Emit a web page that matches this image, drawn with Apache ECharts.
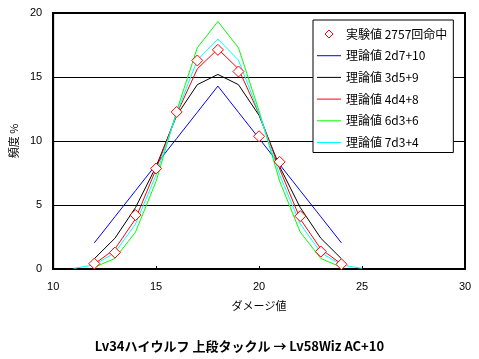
<!DOCTYPE html>
<html>
<head>
<meta charset="utf-8">
<script src="https://cdn.jsdelivr.net/npm/echarts@6/dist/echarts.min.js"></script>
<style>
html,body{margin:0;padding:0;background:#fff;}
#c{width:479px;height:359px;}
</style>
</head>
<body>
<div id="c"></div>
<script>
// damage values (x)
var dmg12to24 = [12,13,14,15,16,17,18,19,20,21,22,23,24];
var dmg11to25 = [11,12,13,14,15,16,17,18,19,20,21,22,23,24,25];
// observed frequency % (2757 hits)
var observed = [0.42,1.28,4.21,7.85,12.27,16.29,17.12,15.43,10.37,8.37,4.13,1.36,0.37];
// theoretical frequency %
var t2d7p10 = [2.04,4.08,6.12,8.16,10.20,12.24,14.29,12.24,10.20,8.16,6.12,4.08,2.04];
var t3d5p9  = [0.8,2.4,4.8,8.0,12.0,14.4,15.2,14.4,12.0,8.0,4.8,2.4,0.8];
var t4d4p8  = [0.39,1.56,3.91,7.81,12.11,15.63,17.19,15.63,12.11,7.81,3.91,1.56,0.39];
var t6d3p6  = [0.14,0.82,2.88,6.86,12.35,17.28,19.34,17.28,12.35,6.86,2.88,0.82,0.14];
var t7d3p4  = [0.05,0.32,1.28,3.52,7.36,12.16,16.32,17.97,16.32,12.16,7.36,3.52,1.28,0.32,0.05];
var seriesNames = ['実験値 2757回命中','理論値 2d7+10','理論値 3d5+9','理論値 4d4+8','理論値 6d3+6','理論値 7d3+4'];
var lineColors = ['#0000ff','#000000','#ff0000','#00ff00','#00ffff'];
var xTicks = [10,15,20,25,30];
var yTicks = [0,5,10,15,20];

function pairs(xs, ys){ return xs.map(function(x,i){ return [x, ys[i]]; }); }
function lineSeries(name, xs, ys, color){
  return {name:name, type:'line', data:pairs(xs,ys), showSymbol:false, symbol:'none',
    lineStyle:{color:color, width:1}, itemStyle:{color:color}, z:3, animation:false};
}
var legendData = [{name:seriesNames[0], icon:'path://M4 0L8 4L4 8L0 4Z',
  itemStyle:{color:'#fff', borderColor:'#ff0000', borderWidth:1}}];
for (var i=1;i<seriesNames.length;i++){
  legendData.push({name:seriesNames[i], icon:'path://M0 0H24V1H0Z', itemStyle:{color:lineColors[i-1], borderWidth:0}});
}
var jp = '"Noto Sans CJK JP", sans-serif';
var chart = echarts.init(document.getElementById('c'), null, {renderer:'canvas'});
chart.setOption({
  backgroundColor:'#fff',
  animation:false,
  title:{text:'Lv34ハイウルフ 上段タックル → Lv58Wiz AC+10', left:'center', top:335,
    textStyle:{fontFamily:jp, fontSize:13, fontWeight:'bold', color:'#000'}},
  grid:{left:50, right:14, top:13, bottom:90, show:true, borderColor:'#000', borderWidth:2, backgroundColor:'transparent'},
  legend:{orient:'vertical', left:313, top:20, itemWidth:24, itemHeight:8, itemGap:9.7,
    padding:[8,6,4,4], backgroundColor:'#fff', borderColor:'#000', borderWidth:1, borderRadius:0,
    textStyle:{fontFamily:jp, fontSize:12, color:'#000'},
    data:legendData},
  xAxis:{type:'value', min:xTicks[0], max:xTicks[xTicks.length-1], interval:5,
    name:'ダメージ値', nameLocation:'middle', nameGap:31,
    nameTextStyle:{fontFamily:jp, fontSize:11, color:'#000'},
    axisLine:{lineStyle:{color:'#000', width:2}},
    axisTick:{inside:true, length:3, lineStyle:{color:'#000', width:1}},
    axisLabel:{fontFamily:'"Liberation Sans", Arial, sans-serif', fontSize:11, color:'#000', margin:12},
    splitLine:{show:false}},
  yAxis:{type:'value', min:yTicks[0], max:yTicks[yTicks.length-1], interval:5,
    name:'頻度 %', nameLocation:'middle', nameRotate:90, nameGap:27,
    nameTextStyle:{fontFamily:jp, fontSize:11, color:'#000'},
    axisLine:{show:true, lineStyle:{color:'#000', width:2}},
    axisTick:{show:true, inside:true, length:3, lineStyle:{color:'#000', width:1}},
    axisLabel:{fontFamily:'"Liberation Sans", Arial, sans-serif', fontSize:11, color:'#000', margin:11},
    splitLine:{show:true, lineStyle:{color:'#000', width:1}}},
  series:[
    {name:seriesNames[0], type:'scatter', data:pairs(dmg12to24, observed), symbol:'diamond', symbolSize:11,
      itemStyle:{color:'#fff', borderColor:'#ff0000', borderWidth:1, opacity:1}, z:5},
    lineSeries(seriesNames[1], dmg12to24, t2d7p10, lineColors[0]),
    lineSeries(seriesNames[2], dmg12to24, t3d5p9, lineColors[1]),
    lineSeries(seriesNames[3], dmg12to24, t4d4p8, lineColors[2]),
    lineSeries(seriesNames[4], dmg12to24, t6d3p6, lineColors[3]),
    lineSeries(seriesNames[5], dmg11to25, t7d3p4, lineColors[4])
  ]
});
</script>
</body>
</html>
